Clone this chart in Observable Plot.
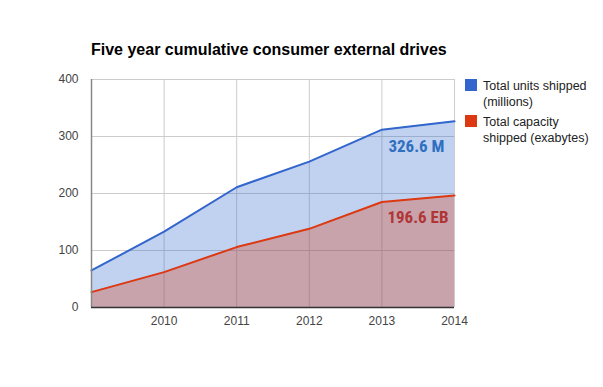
<!DOCTYPE html>
<html>
<head>
<meta charset="utf-8">
<script src="https://cdn.jsdelivr.net/npm/d3@7"></script>
<script src="https://cdn.jsdelivr.net/npm/@observablehq/plot@0.6"></script>
<style>
  body { margin: 0; background: #fff; font-family: Arial, "Liberation Sans", sans-serif; }
  #wrap { position: relative; width: 603px; height: 387px; }
  #title { position: absolute; left: 91px; top: 41px; font-size: 16px; font-weight: bold; color: #000; white-space: nowrap; }
  .leg { position: absolute; left: 465px; font-size: 12.5px; color: #222; line-height: 16px; }
  .sw { position: absolute; left: 0; top: 1px; width: 12px; height: 12px; }
  .lt { position: absolute; left: 18px; top: 0; white-space: nowrap; }
</style>
</head>
<body>
<div id="wrap">
  <div id="chart"></div>
  <div id="title"></div>
  <div id="legend"></div>
</div>
<script>
const years = [2009, 2010, 2011, 2012, 2013, 2014];
const unitsShipped = [65, 133, 211, 256, 312, 326.6];
const capacityShipped = [27, 62, 106, 138, 185, 196.6];
const seriesNames = ["Total units shipped\n(millions)", "Total capacity\nshipped (exabytes)"];
const seriesColors = ["#3366cc", "#dc3912"];
const annotationLabels = ["326.6 M", "196.6 EB"];
const yTicks = [0, 100, 200, 300, 400];
const xTicks = [2010, 2011, 2012, 2013, 2014];
const titleText = "Five year cumulative consumer external drives";

const units = years.map((x, i) => ({x, y: unitsShipped[i]}));
const cap = years.map((x, i) => ({x, y: capacityShipped[i]}));
const last = years.length - 1;

const font = "Arial, 'Liberation Sans', sans-serif";
const annFont = "'Roboto Condensed', 'Liberation Sans Narrow', 'DejaVu Sans Condensed', Roboto, sans-serif";

const chart = Plot.plot({
  width: 603,
  height: 387,
  marginLeft: 91,
  marginRight: 149,
  marginTop: 79,
  marginBottom: 80,
  style: {fontFamily: font, fontSize: "12px", color: "#444", background: "transparent"},
  x: {domain: [2009, 2014], ticks: xTicks, tickFormat: d => String(d), label: null},
  y: {domain: [0, 400], ticks: yTicks, label: null},
  marks: [
    Plot.gridY(yTicks, {stroke: "#ccc", strokeOpacity: 1}),
    Plot.gridX(years, {stroke: "#ccc", strokeOpacity: 1}),
    Plot.areaY(units, {x: "x", y: "y", fill: seriesColors[0], fillOpacity: 0.3}),
    Plot.areaY(cap, {x: "x", y: "y", fill: seriesColors[1], fillOpacity: 0.3}),
    Plot.line(units, {x: "x", y: "y", stroke: seriesColors[0], strokeWidth: 2}),
    Plot.line(cap, {x: "x", y: "y", stroke: seriesColors[1], strokeWidth: 2}),
    Plot.ruleX([2009], {stroke: "#888", strokeWidth: 1.5}),
    Plot.ruleY([0], {stroke: "#333", strokeWidth: 1.5}),
    Plot.axisY({ticks: yTicks, tickSize: 0, tickPadding: 13, fill: "#444", fontSize: 12}),
    Plot.axisX({ticks: xTicks, tickSize: 0, tickPadding: 9, fill: "#444", fontSize: 12, tickFormat: d => String(d)}),
    Plot.text([{x: years[last], y: unitsShipped[last], t: annotationLabels[0]}],
      {x: "x", y: "y", text: "t", textAnchor: "end", dx: -10, dy: 25, fill: "#2f6fbf",
       fontSize: 17, fontWeight: "bold", fontFamily: annFont}),
    Plot.text([{x: years[last], y: capacityShipped[last], t: annotationLabels[1]}],
      {x: "x", y: "y", text: "t", textAnchor: "end", dx: -6, dy: 22, fill: "#b03535",
       fontSize: 17, fontWeight: "bold", fontFamily: annFont})
  ]
});
document.getElementById("chart").appendChild(chart);
document.getElementById("title").textContent = titleText;

const legend = document.getElementById("legend");
const tops = [78, 114];
seriesNames.forEach((name, i) => {
  const d = document.createElement("div");
  d.className = "leg";
  d.style.top = tops[i] + "px";
  const sw = document.createElement("div");
  sw.className = "sw";
  sw.style.background = seriesColors[i];
  const t = document.createElement("div");
  t.className = "lt";
  t.innerHTML = name.split("\n").map(s => s.replace(/&/g, "&amp;").replace(/</g, "&lt;")).join("<br>");
  d.appendChild(sw);
  d.appendChild(t);
  legend.appendChild(d);
});
</script>
</body>
</html>
